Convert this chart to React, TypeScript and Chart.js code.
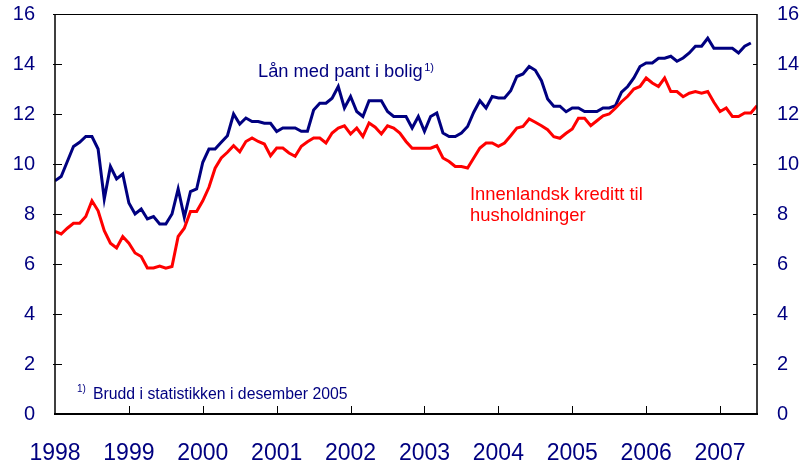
import React, { useEffect, useRef } from "react";
import { Chart, registerables } from "chart.js";

Chart.register(...registerables);

// Monthly data, starting January 1998
const startYear = 1998;
const yearLabels = ["1998", "1999", "2000", "2001", "2002", "2003", "2004", "2005", "2006", "2007"];
const yTicks = [0, 2, 4, 6, 8, 10, 12, 14, 16];

const seriesNames = ["Lån med pant i bolig", "Innenlandsk kreditt til husholdninger"];

// Lån med pant i bolig 1) (Jan 1998 - Jun 2007)
const laanMedPant = [
  9.33, 9.5, 10.1, 10.7, 10.87, 11.1, 11.1, 10.6, 8.6, 9.9, 9.4, 9.6,
  8.44, 8.0, 8.2, 7.8, 7.9, 7.6, 7.6, 8.0, 9.0, 7.87, 8.9, 9.0,
  10.07, 10.6, 10.6, 10.87, 11.13, 12.0, 11.6, 11.84, 11.7, 11.7, 11.63, 11.63,
  11.3, 11.44, 11.44, 11.44, 11.31, 11.31, 12.16, 12.43, 12.43, 12.63, 13.1, 12.24,
  12.7, 12.1, 11.9, 12.53, 12.53, 12.53, 12.1, 11.9, 11.9, 11.9, 11.44, 11.9,
  11.31, 11.9, 12.04, 11.24, 11.1, 11.1, 11.24, 11.5, 12.07, 12.53, 12.24, 12.7,
  12.64, 12.64, 12.93, 13.5, 13.6, 13.9, 13.75, 13.33, 12.6, 12.31, 12.31, 12.09,
  12.24, 12.24, 12.1, 12.1, 12.1, 12.24, 12.24, 12.33, 12.87, 13.1, 13.44, 13.9,
  14.04, 14.04, 14.23, 14.23, 14.31, 14.11, 14.24, 14.44, 14.71, 14.71, 15.03, 14.63,
  14.63, 14.63, 14.63, 14.44, 14.71, 14.84,
];

// Innenlandsk kreditt til husholdninger (Jan 1998 - Jul 2007)
const innenlandskKreditt = [
  7.3, 7.2, 7.43, 7.63, 7.63, 7.9, 8.53, 8.13, 7.33, 6.83, 6.64, 7.1,
  6.83, 6.44, 6.3, 5.84, 5.84, 5.92, 5.83, 5.9, 7.1, 7.43, 8.1, 8.1,
  8.53, 9.07, 9.83, 10.24, 10.47, 10.73, 10.49, 10.9, 11.04, 10.9, 10.8, 10.33,
  10.64, 10.64, 10.44, 10.31, 10.71, 10.89, 11.04, 11.04, 10.84, 11.24, 11.44, 11.53,
  11.2, 11.44, 11.1, 11.64, 11.47, 11.2, 11.53, 11.44, 11.24, 10.9, 10.63, 10.63,
  10.63, 10.63, 10.73, 10.24, 10.1, 9.9, 9.9, 9.84, 10.24, 10.64, 10.84, 10.84,
  10.71, 10.84, 11.13, 11.44, 11.5, 11.8, 11.67, 11.53, 11.37, 11.09, 11.03, 11.23,
  11.4, 11.83, 11.83, 11.53, 11.73, 11.93, 12.0, 12.23, 12.49, 12.71, 13.0, 13.1,
  13.44, 13.24, 13.1, 13.44, 12.9, 12.9, 12.69, 12.83, 12.9, 12.83, 12.9, 12.47,
  12.1, 12.24, 11.9, 11.9, 12.04, 12.04, 12.33,
];

const footnote = "Brudd i statistikken i desember 2005";

const NAVY = "#000080";
const RED = "#ff0000";
const FONT = "'Liberation Sans', Arial, Helvetica, sans-serif";

const toPoints = (vals: number[]) => vals.map((v, i) => ({ x: i, y: v }));

const framePlugin = {
  id: "frameAndText",
  afterDraw(chart: any) {
    const { ctx, chartArea } = chart;
    const { left, right, top, bottom } = chartArea;
    const xs = chart.scales.x;
    const ys = chart.scales.y;
    ctx.save();
    ctx.strokeStyle = "#000";
    ctx.lineCap = "butt";
    // frame
    ctx.lineWidth = 1;
    ctx.beginPath();
    ctx.moveTo(left, top + 0.5);
    ctx.lineTo(right, top + 0.5);
    ctx.stroke();
    ctx.lineWidth = 1.5;
    ctx.beginPath();
    ctx.moveTo(left, top);
    ctx.lineTo(left, bottom);
    ctx.moveTo(right, top);
    ctx.lineTo(right, bottom);
    ctx.stroke();
    ctx.lineWidth = 2;
    ctx.beginPath();
    ctx.moveTo(left - 1, bottom);
    ctx.lineTo(right + 1, bottom);
    ctx.stroke();
    // x tick marks (inside)
    ctx.lineWidth = 1;
    ctx.beginPath();
    for (let k = 1; k < yearLabels.length; k++) {
      const px = Math.round(xs.getPixelForValue(k * 12)) + 0.5;
      ctx.moveTo(px, bottom);
      ctx.lineTo(px, bottom - 8);
    }
    // y tick marks
    for (const t of yTicks) {
      if (t === 0) continue;
      const py = Math.round(ys.getPixelForValue(t)) + 0.5;
      ctx.moveTo(left - 2, py);
      ctx.lineTo(left + 7, py);
      ctx.moveTo(right - 4, py);
      ctx.lineTo(right, py);
    }
    ctx.stroke();

    // series labels
    ctx.textBaseline = "alphabetic";
    ctx.textAlign = "left";
    ctx.fillStyle = NAVY;
    ctx.font = `18.3px ${FONT}`;
    const l1 = seriesNames[0];
    ctx.fillText(l1, 258, 76.5);
    const w1 = ctx.measureText(l1).width;
    ctx.font = `11px ${FONT}`;
    ctx.fillText("1)", 258 + w1 + 1.5, 71);

    ctx.fillStyle = RED;
    ctx.font = `18.4px ${FONT}`;
    ctx.fillText("Innenlandsk kreditt til", 470, 199.5);
    ctx.fillText("husholdninger", 470, 221);

    // footnote
    ctx.fillStyle = NAVY;
    ctx.font = `10px ${FONT}`;
    ctx.fillText("1)", 77, 392);
    ctx.font = `15.8px ${FONT}`;
    ctx.fillText(footnote, 93, 399);
    ctx.restore();
  },
};

export default function App() {
  const ref = useRef<HTMLCanvasElement | null>(null);

  useEffect(() => {
    document.body.style.margin = "0";
    const canvas = ref.current;
    if (!canvas) return;
    const chart = new Chart(canvas, {
      type: "line",
      data: {
        datasets: [
          {
            label: seriesNames[1],
            data: toPoints(innenlandskKreditt),
            borderColor: RED,
            backgroundColor: RED,
            borderWidth: 3,
            pointRadius: 0,
            tension: 0,
            yAxisID: "y",
          },
          {
            label: seriesNames[0],
            data: toPoints(laanMedPant),
            borderColor: NAVY,
            backgroundColor: NAVY,
            borderWidth: 3,
            pointRadius: 0,
            tension: 0,
            yAxisID: "y",
          },
        ],
      },
      options: {
        responsive: false,
        animation: false,
        layout: { padding: { top: 14, left: 0, right: 0, bottom: 0 } },
        plugins: {
          legend: { display: false },
          title: { display: false },
          tooltip: { enabled: false },
        },
        scales: {
          x: {
            type: "linear",
            min: 0,
            max: 114,
            grid: { display: false, drawTicks: true, tickLength: 26 },
            border: { display: false },
            afterFit: (s: any) => {
              s.height = 56;
            },
            ticks: {
              stepSize: 12,
              includeBounds: false,
              autoSkip: false,
              maxRotation: 0,
              padding: 0,
              color: NAVY,
              font: { family: FONT, size: 23 },
              callback: (v: any) => {
                const n = Number(v);
                if (n % 12 !== 0) return "";
                return yearLabels[n / 12] ?? String(startYear + n / 12);
              },
            },
          },
          y: {
            position: "left",
            min: 0,
            max: 16,
            grid: { display: false, drawTicks: true, tickLength: 20 },
            border: { display: false },
            afterFit: (s: any) => {
              s.width = 55;
            },
            ticks: {
              stepSize: 2,
              padding: 0,
              color: NAVY,
              font: { family: FONT, size: 20 },
            },
          },
          y2: {
            position: "right",
            min: 0,
            max: 16,
            grid: { display: false, drawTicks: true, tickLength: 20 },
            border: { display: false },
            afterFit: (s: any) => {
              s.width = 51;
            },
            ticks: {
              stepSize: 2,
              padding: 0,
              color: NAVY,
              font: { family: FONT, size: 20 },
            },
          },
        },
      },
      plugins: [framePlugin],
    });
    return () => chart.destroy();
  }, []);

  return (
    <div style={{ width: 808, height: 470, background: "#fff" }}>
      <canvas ref={ref} width={808} height={470} style={{ display: "block" }} />
    </div>
  );
}
